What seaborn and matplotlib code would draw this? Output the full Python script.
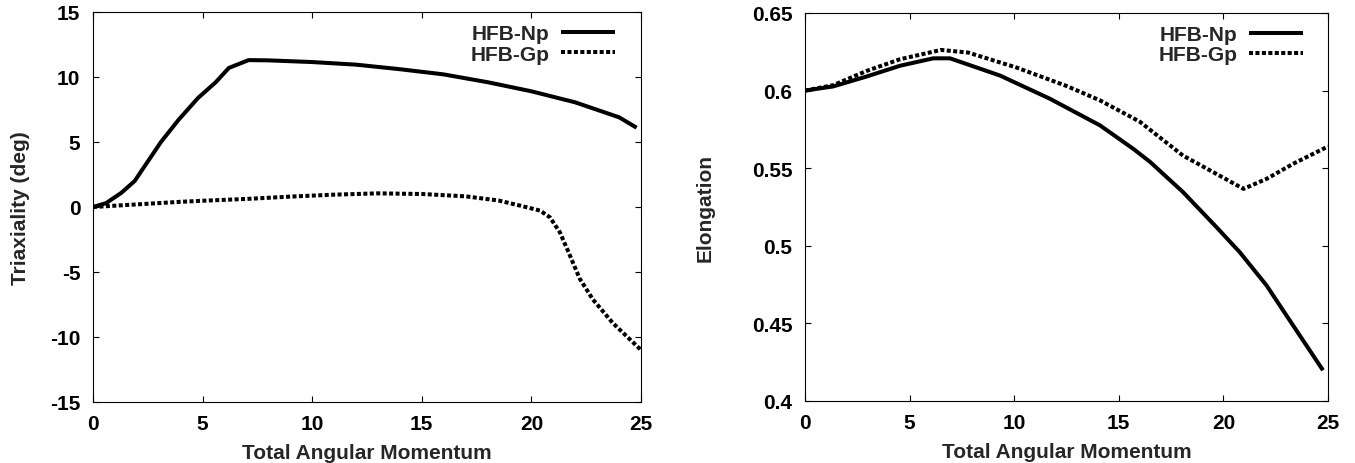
import matplotlib
matplotlib.use("Agg")
import matplotlib.pyplot as plt
from matplotlib.ticker import FormatStrFormatter, MultipleLocator
import seaborn as sns
import pandas as pd

# ---- data ----
tri_np_x = [0, 0.6, 1.3, 1.9, 2.5, 3.1, 3.9, 4.8, 5.6, 6.2, 7.1, 8, 10, 12, 14, 16, 18, 20, 22, 24, 24.8]
tri_np_y = [0, 0.3, 1.1, 2.0, 3.5, 5.0, 6.7, 8.4, 9.6, 10.7, 11.3, 11.28, 11.15, 10.95, 10.6, 10.2, 9.6, 8.9, 8.05, 6.9, 6.1]

tri_gp_x = [0, 2, 4, 5, 7, 9, 11, 13, 15, 17, 18.5, 19.5, 20.4, 20.85, 21.3, 21.7, 22.2, 22.8, 23.7, 25]
tri_gp_y = [0, 0.2, 0.4, 0.48, 0.62, 0.8, 0.95, 1.05, 1.0, 0.82, 0.5, 0.1, -0.28, -0.8, -1.95, -3.5, -5.5, -7.1, -8.9, -11.0]

elo_np_x = [0, 1.35, 2.95, 4.54, 6.13, 6.93, 9.32, 11.7, 14.1, 15.7, 16.5, 18.07, 19.67, 20.78, 22.06, 23.33, 24.76]
elo_np_y = [0.600, 0.6027, 0.6091, 0.616, 0.6208, 0.6208, 0.6097, 0.5948, 0.5776, 0.5624, 0.554, 0.5346, 0.512, 0.4959, 0.4745, 0.4487, 0.4198]

elo_gp_x = [0, 1.35, 2.95, 4.54, 6.5, 7.8, 10.1, 12.5, 14.1, 16, 18.07, 19.67, 20.96, 22.06, 23.33, 24.76, 25]
elo_gp_y = [0.600, 0.6035, 0.6127, 0.6202, 0.6262, 0.6245, 0.6149, 0.603, 0.5937, 0.580, 0.5581, 0.5463, 0.5367, 0.5431, 0.5528, 0.5624, 0.5640]

series_labels = ["HFB-Np", "HFB-Gp"]
x_label = "Total Angular Momentum"
y_labels = ["Triaxiality (deg)", "Elongation"]

# ---- style ----
sns.set_style("ticks")
plt.rcParams["font.family"] = ["Liberation Sans", "DejaVu Sans"]
plt.rcParams["font.weight"] = "bold"
plt.rcParams["axes.labelweight"] = "bold"
plt.rcParams["axes.unicode_minus"] = False

FS = 15
fig = plt.figure(figsize=(13.55, 4.64), dpi=100)
ax1 = fig.add_axes([93 / 1355, 61 / 464, 548 / 1355, 390 / 464])
ax2 = fig.add_axes([805 / 1355, 62 / 464, 523 / 1355, 388 / 464])

solid_kw = dict(color="black", linewidth=2.9, solid_capstyle="butt")
dot_kw = dict(color="black", linewidth=2.9, linestyle=(0, (1.0, 0.6)), dash_capstyle="butt")

def draw(ax, npx, npy, gpx, gpy):
    d1 = pd.DataFrame({"x": npx, "y": npy})
    d2 = pd.DataFrame({"x": gpx, "y": gpy})
    sns.lineplot(data=d1, x="x", y="y", ax=ax, label=series_labels[0], **solid_kw)
    sns.lineplot(data=d2, x="x", y="y", ax=ax, label=series_labels[1], **dot_kw)
    ax.set_xlim(0, 25)
    ax.xaxis.set_major_locator(MultipleLocator(5))
    for s in ax.spines.values():
        s.set_linewidth(0.8)
        s.set_color("black")
        s.set_visible(True)
    ax.tick_params(direction="in", length=4.3, width=0.8, top=True, right=True,
                   labelsize=FS, pad=9, colors="black")
    for lab in ax.get_xticklabels() + ax.get_yticklabels():
        lab.set_fontweight("bold")
    ax.set_xlabel(x_label, fontsize=FS, fontweight="bold")
    ax.xaxis.set_label_coords(0.5, -0.105)
    ax.legend(loc="upper right", bbox_to_anchor=(0.953, 0.968), frameon=False,
              markerfirst=False, handlelength=2.6, handletextpad=0.55,
              labelspacing=0.05, borderaxespad=0, borderpad=0,
              prop={"weight": "bold", "size": FS})

draw(ax1, tri_np_x, tri_np_y, tri_gp_x, tri_gp_y)
ax1.set_ylim(-15, 15)
ax1.yaxis.set_major_locator(MultipleLocator(5))
ax1.set_ylabel(y_labels[0], fontsize=FS, fontweight="bold")
ax1.yaxis.set_label_coords(-0.115, 0.5)

draw(ax2, elo_np_x, elo_np_y, elo_gp_x, elo_gp_y)
ax2.set_ylim(0.4, 0.65)
ax2.yaxis.set_major_locator(MultipleLocator(0.05))
ax2.yaxis.set_major_formatter(FormatStrFormatter("%g"))
ax2.set_ylabel(y_labels[1], fontsize=FS, fontweight="bold")
ax2.yaxis.set_label_coords(-0.172, 0.5)
for lab in ax2.get_yticklabels():
    lab.set_fontweight("bold")

fig.savefig("out.png", dpi=100)
